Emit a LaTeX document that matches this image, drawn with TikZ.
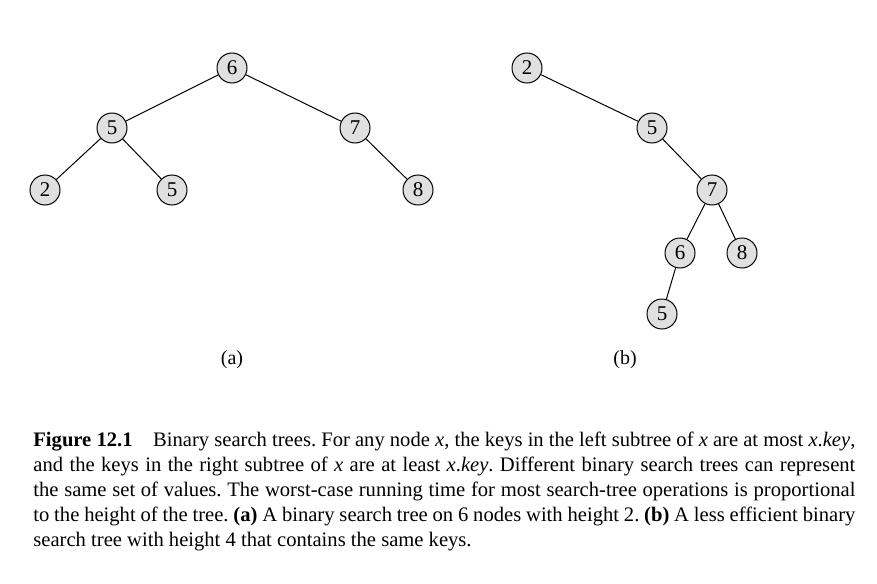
\documentclass[tikz,border=0pt]{standalone}
\usepackage{fontspec}
\setmainfont{Liberation Serif}
\tikzset{key/.style={circle, draw, fill=black!12, line width=0.5pt, minimum size=15pt, inner sep=0pt, font=\fontsize{10.5}{11}\selectfont}}
\begin{document}
\begin{tikzpicture}[x=0.5pt,y=-0.5pt]
      \useasboundingbox (0,0) rectangle (877,583);
      % tree (a)
      \node[key] (a6) at (232,68) {6};
      \node[key] (a5) at (112,128) {5};
      \node[key] (a7) at (355,128) {7};
      \node[key] (a2) at (45,190) {2};
      \node[key] (a5r) at (172,190) {5};
      \node[key] (a8) at (418,190) {8};
      \draw[line width=0.5pt] (a6) -- (a5) (a6) -- (a7) (a5) -- (a2) (a5) -- (a5r) (a7) -- (a8);
      \node (la) at (232,360) {(a)};
      % tree (b)
      \node[key] (b2) at (527,68) {2};
      \node[key] (b5) at (652,128) {5};
      \node[key] (b7) at (712,190) {7};
      \node[key] (b6) at (680,253) {6};
      \node[key] (b8) at (742,253) {8};
      \node[key] (b5l) at (662,314) {5};
      \draw[line width=0.5pt] (b2) -- (b5) (b5) -- (b7) (b7) -- (b6) (b7) -- (b8) (b6) -- (b5l);
      \node (lb) at (625,360) {(b)};
      % caption
      \node[anchor=north west, inner sep=0pt, text width=411pt, align=justify, font=\fontsize{10.3}{12.5}\selectfont\frenchspacing] (cap) at (33,432)
        {\textbf{Figure 12.1}\quad Binary search trees. For any node \textit{x}, the keys in the left subtree of \textit{x} are at most \textit{x}.\textit{key},\linebreak
         and the keys in the right subtree of \textit{x} are at least \textit{x}.\textit{key}. Different binary search trees can represent\linebreak
         the same set of values. The worst-case running time for most search-tree operations is proportional\linebreak
         to the height of the tree. \textbf{(a)} A binary search tree on 6 nodes with height 2. \textbf{(b)} A less efficient binary\linebreak
         search tree with height 4 that contains the same keys.};
\end{tikzpicture}
\end{document}
